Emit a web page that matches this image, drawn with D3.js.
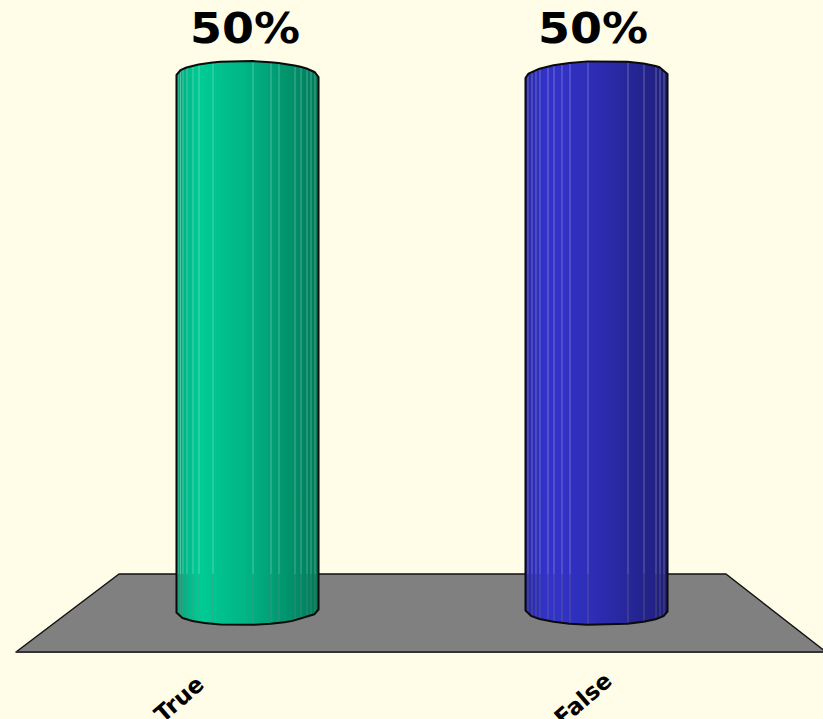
<!DOCTYPE html>
<html><head><meta charset="utf-8">
<style>html,body{margin:0;padding:0;background:#FFFCE8;overflow:hidden}svg{display:block}</style>
<script src="https://cdn.jsdelivr.net/npm/d3@7"></script></head>
<body><svg id="c" width="823" height="719"></svg>
<script>
const categories = ["True", "False"];
const values = [50, 50];
const valueLabels = ["50%", "50%"];
const barColors = ["#00CC96", "#3333CC"];
const facetEdges = [
  [1,3.5,6,10,16,22,36,76,94,102,118,124,130,134,138],
  [2,6,10,14,22,28,36,44,62,102,118,130,134,138]
];
const topVertices = [
  [0,4,10,22,36,44,76,94,102,118,124,130,138,142],
  [0,3,14,28,44,62,102,118,130,134,142]
];
const bottomVertices = [
  [0,6,16,28,44,76,94,108,116,138,142],
  [0,6,14,28,44,62,102,118,130,138,142]
];
const topTilt = [2, -4];
const bottomTilt = [-3, 1];

const W = 823, H = 719;
const svg = d3.select("#c");
svg.append("rect").attr("width", W).attr("height", H).attr("fill", "#FFFCE8");

const x = d3.scaleBand().domain(categories).range([73, 771]).paddingInner(0.593).paddingOuter(0.2965);
const y = d3.scaleLinear().domain([0, 50]).range([611, 76]);
const labelX = d3.scalePoint().domain(categories).range([179, 583]);
const valueX = d3.scalePoint().domain(categories).range([245, 593]);
const shade = d3.scaleLinear().domain([0, 0.16, 0.5, 1]).range([0.82, 1, 0.88, 0.6]);
const floorTop = 574, floorBottom = 652;

svg.append("path")
  .attr("d", d3.line()([[119, floorTop], [726, floorTop], [826, floorBottom], [16, floorBottom]]) + "Z")
  .attr("fill", "#808080").attr("stroke", "#111").attr("stroke-width", 1.5).attr("stroke-linejoin", "round");
svg.append("line").attr("x1", 16).attr("x2", W).attr("y1", floorBottom).attr("y2", floorBottom)
  .attr("stroke", "#333").attr("stroke-width", 2);

const defs = svg.append("defs");
const RY_TOP = 15, RY_BOT = 14;

categories.forEach((cat, i) => {
  const bw = x.bandwidth(), left = x(cat);
  const topAt = p => {
    const u = (p - 71) / 71;
    return y(values[i]) - RY_TOP * Math.sqrt(Math.max(0, 1 - u * u)) + topTilt[i] * (u / 2);
  };
  const botAt = p => {
    const u = (p - 71) / 71;
    return y(0) + RY_BOT * Math.sqrt(Math.max(0, 1 - u * u)) + bottomTilt[i] * (u / 2);
  };
  const toX = p => left + p * bw / 142;

  const gid = "grad" + i;
  const g = defs.append("linearGradient").attr("id", gid);
  d3.range(0, 1.0001, 0.04).forEach(t => {
    const c = d3.rgb(barColors[i]);
    const s = shade(t);
    g.append("stop").attr("offset", t).attr("stop-color", d3.rgb(c.r * s, c.g * s, c.b * s).formatHex());
  });

  const outline = [
    ...topVertices[i].map(p => [toX(p), topAt(p)]),
    ...bottomVertices[i].slice().reverse().map(p => [toX(p), botAt(p)])
  ];

  const body = svg.append("g");
  body.append("path").attr("d", d3.line()(outline) + "Z").attr("fill", `url(#${gid})`);
  body.selectAll("line.up").data(facetEdges[i]).join("line").attr("class", "up")
    .attr("x1", p => toX(p) + 0.5).attr("x2", p => toX(p) + 0.5)
    .attr("y1", p => topAt(p) + 1).attr("y2", floorTop)
    .attr("stroke", "#fff").attr("stroke-opacity", 0.3);
  body.selectAll("line.down").data(facetEdges[i]).join("line").attr("class", "down")
    .attr("x1", p => toX(p) + 0.5).attr("x2", p => toX(p) + 0.5)
    .attr("y1", floorTop).attr("y2", p => botAt(p) - 1)
    .attr("stroke", "#808080").attr("stroke-opacity", 0.45);
  body.append("path").attr("d", d3.line()(outline) + "Z").attr("fill", "none")
    .attr("stroke", "#0a0a0a").attr("stroke-width", 2).attr("stroke-linejoin", "round");

  svg.append("text").attr("x", valueX(cat)).attr("y", 43)
    .attr("text-anchor", "middle").attr("font-family", "DejaVu Sans").attr("font-weight", "bold")
    .attr("font-size", 43).attr("textLength", 110).attr("lengthAdjust", "spacingAndGlyphs")
    .attr("fill", "#000").text(valueLabels[i]);

  svg.append("text")
    .attr("transform", `translate(${labelX(cat)},699) rotate(-41)`)
    .attr("text-anchor", "middle").attr("dominant-baseline", "central")
    .attr("font-family", "DejaVu Sans").attr("font-weight", "bold").attr("font-size", 23)
    .attr("fill", "#000").text(cat);
});
</script></body></html>
